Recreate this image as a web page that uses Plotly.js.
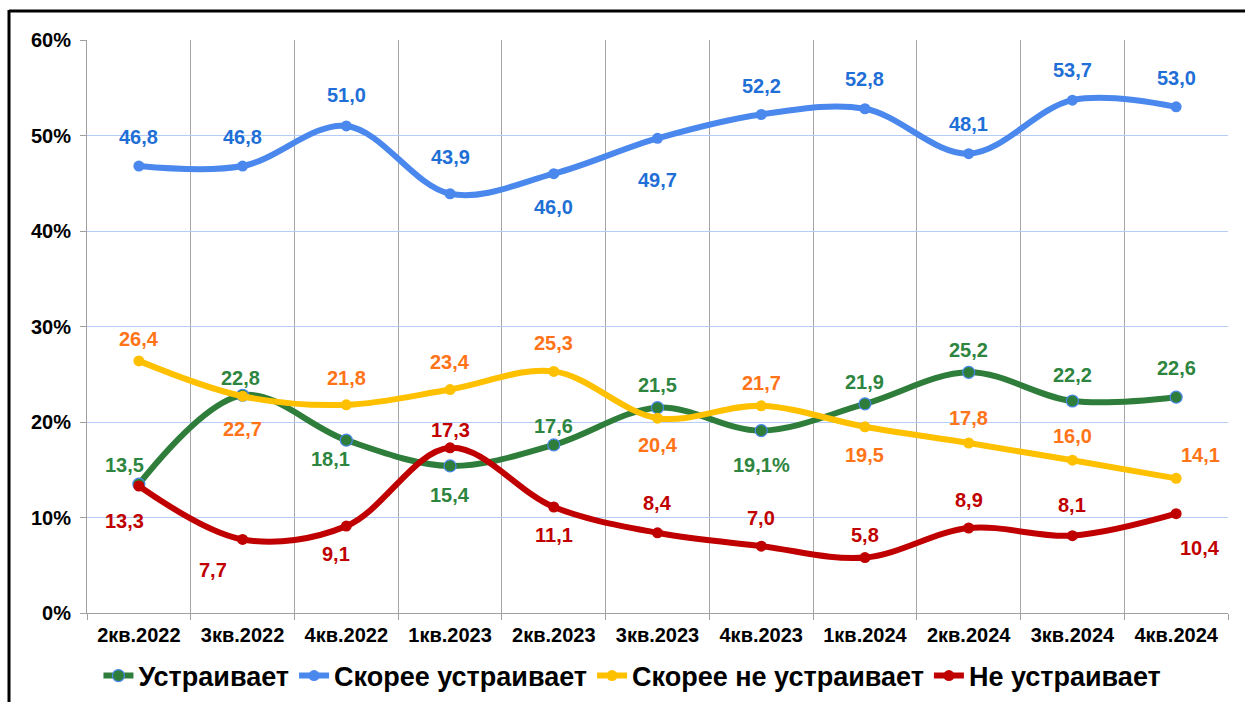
<!DOCTYPE html>
<html><head><meta charset="utf-8">
<script src="https://cdn.plot.ly/plotly-3.0.1.min.js"></script>
<style>html,body{margin:0;padding:0;background:#fff;}#chart{width:1245px;height:702px;}</style>
</head><body><div id="chart"></div>
<script>
// ---- data ----
const categories = ['2кв.2022','3кв.2022','4кв.2022','1кв.2023','2кв.2023','3кв.2023','4кв.2023','1кв.2024','2кв.2024','3кв.2024','4кв.2024'];
const seriesNames = ['Устраивает','Скорее устраивает','Скорее не устраивает','Не устраивает'];
const satisfied      = [13.5, 22.8, 18.1, 15.4, 17.6, 21.5, 19.1, 21.9, 25.2, 22.2, 22.6];
const ratherSatisfied= [46.8, 46.8, 51.0, 43.9, 46.0, 49.7, 52.2, 52.8, 48.1, 53.7, 53.0];
const ratherNot      = [26.4, 22.7, 21.8, 23.4, 25.3, 20.4, 21.7, 19.5, 17.8, 16.0, 14.1];
const notSatisfied   = [13.3, 7.7, 9.1, 17.3, 11.1, 8.4, 7.0, 5.8, 8.9, 8.1, 10.4];
const satisfiedSuffix = ['','','','','','','%','','','',''];

// ---- styling / label placement (pixels) ----
const lineColors  = ['#2e7d3a','#4a88ee','#ffc000','#c00000'];
const labelColors = ['#2e8540','#1f6fd6','#ff7418','#c00000'];
const labelDy = [
  [19,17,-19,-29,19,23,-34,22,22,26,29],
  [29,29,31,37,-33,-42,28,30,30,30,29],
  [22,-33,27,28,28,-27,23,-28,25,24,23],
  [-35,-31,-28,18,-28,30,28,23,28,31,-34]
];
const labelDx = [
  [-14,-2,-16,0,0,0,0,0,0,0,0],
  [0,0,0,0,0,0,0,0,0,0,0],
  [0,0,0,0,0,0,0,0,0,0,24],
  [-14,-30,-10,0,0,0,0,0,0,0,24]
];

const allSeries = [satisfied, ratherSatisfied, ratherNot, notSatisfied];
const suffixes = [satisfiedSuffix, null, null, null];

const traces = allSeries.map((vals, i) => ({
  type: 'scatter',
  mode: 'lines+markers',
  name: seriesNames[i],
  x: categories,
  y: vals,
  line: {color: lineColors[i], width: 6, shape: 'spline', smoothing: 1},
  marker: {
    color: lineColors[i],
    size: i === 0 ? 12 : 11,
    line: {color: i === 0 ? '#4a88ee' : lineColors[i], width: i === 0 ? 1.2 : 0}
  },
  hoverinfo: 'skip'
}));

const annotations = [];
allSeries.forEach((vals, i) => {
  vals.forEach((v, j) => {
    annotations.push({
      x: categories[j], y: v, xref: 'x', yref: 'y',
      text: v.toFixed(1).replace('.', ',') + (suffixes[i] ? suffixes[i][j] : ''),
      showarrow: false,
      xanchor: 'center', yanchor: 'middle',
      xshift: labelDx[i][j], yshift: labelDy[i][j],
      font: {family: 'Arial, Liberation Sans, sans-serif', size: 20, color: labelColors[i], weight: 'bold'}
    });
  });
});

const W = 1245, H = 702, mL = 87, mR = 17, mT = 40, mB = 89;
const pw = W - mL - mR, ph = H - mT - mB;
const shapes = [
  {type: 'line', xref: 'paper', yref: 'paper', x0: (9 - mL) / pw, x1: (9 - mL) / pw, y0: (H - mB - 10) / ph, y1: (H - mB - 710) / ph, line: {color: '#000', width: 3}},
  {type: 'line', xref: 'paper', yref: 'paper', x0: (9 - mL) / pw, x1: (1250 - mL) / pw, y0: (H - mB - 11) / ph, y1: (H - mB - 11) / ph, line: {color: '#000', width: 3}}
];

const layout = {
  width: W, height: H,
  margin: {l: mL, r: mR, t: mT, b: mB, autoexpand: false},
  paper_bgcolor: '#fff', plot_bgcolor: '#fff',
  font: {family: 'Arial, Liberation Sans, sans-serif', color: '#000'},
  showlegend: true,
  legend: {
    orientation: 'h', xref: 'container', yref: 'container',
    x: 0.508, xanchor: 'center', y: 1 - 676 / H, yanchor: 'middle',
    font: {size: 27, weight: 'bold', color: '#000'},
    traceorder: 'normal'
  },
  xaxis: {
    type: 'category', range: [-0.5, 10.5], automargin: false,
    tickson: 'boundaries', ticks: 'outside', ticklen: 6, tickcolor: '#a0a0a0',
    ticklabelstandoff: 4,
    showgrid: true, gridcolor: '#a6a6a6', gridwidth: 1,
    showline: true, linecolor: '#a0a0a0', linewidth: 1,
    tickfont: {size: 20, weight: 'bold', color: '#000'},
    fixedrange: true
  },
  yaxis: {
    range: [0, 60], dtick: 10, ticksuffix: '%', automargin: false,
    ticks: 'outside', ticklen: 6, tickcolor: '#a0a0a0',
    ticklabelstandoff: 5,
    showgrid: true, gridcolor: '#b4ccf6', gridwidth: 1,
    zeroline: false,
    showline: true, linecolor: '#a0a0a0', linewidth: 1,
    tickfont: {size: 20, weight: 'bold', color: '#000'},
    fixedrange: true
  },
  annotations: annotations,
  shapes: shapes
};

Plotly.newPlot('chart', traces, layout, {displayModeBar: false, staticPlot: true});
</script>
</body></html>
